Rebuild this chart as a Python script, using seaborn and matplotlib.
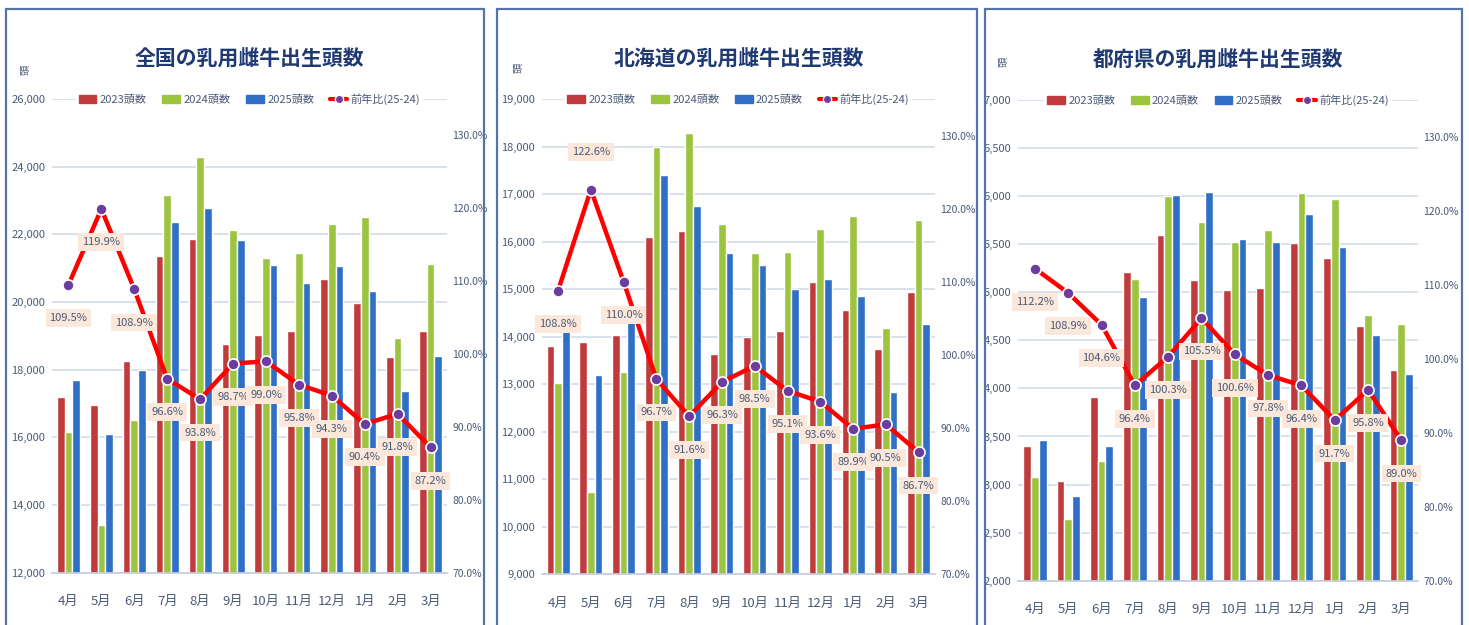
import numpy as np
import pandas as pd
import seaborn as sns
from matplotlib import pyplot as plt
from matplotlib.patches import Rectangle, Patch
from matplotlib.lines import Line2D
from matplotlib.ticker import FuncFormatter, MultipleLocator

sns.set_theme(style="white")
plt.rcParams["font.family"] = ["Noto Sans CJK JP", "DejaVu Sans"]

months = ["4月", "5月", "6月", "7月", "8月", "9月", "10月", "11月", "12月", "1月", "2月", "3月"]
series_names = ["2023頭数", "2024頭数", "2025頭数"]
line_name = "前年比(25-24)"

# 全国
zenkoku_2023 = [17200, 16950, 18250, 21350, 21870, 18760, 19020, 19150, 20690, 19960, 18370, 19150]
zenkoku_2024 = [16150, 13400, 16500, 23150, 24290, 22130, 21310, 21440, 22300, 22500, 18930, 21110]
zenkoku_2025 = [17700, 16100, 17980, 22360, 22770, 21830, 21090, 20550, 21060, 20320, 17370, 18410]
zenkoku_ratio = [109.5, 119.9, 108.9, 96.6, 93.8, 98.7, 99.0, 95.8, 94.3, 90.4, 91.8, 87.2]

# 北海道
hokkaido_2023 = [13800, 13880, 14040, 16090, 16230, 13640, 13990, 14120, 15140, 14560, 13730, 14940]
hokkaido_2024 = [13030, 10740, 13260, 18000, 18280, 16360, 15750, 15780, 16260, 16540, 14180, 16450]
hokkaido_2025 = [14180, 13190, 14580, 17400, 16740, 15750, 15510, 15010, 15210, 14860, 12830, 14260]
hokkaido_ratio = [108.8, 122.6, 110.0, 96.7, 91.6, 96.3, 98.5, 95.1, 93.6, 89.9, 90.5, 86.7]

# 都府県
tofuken_2023 = [3400, 3040, 3910, 5210, 5600, 5130, 5020, 5040, 5510, 5360, 4650, 4190]
tofuken_2024 = [3080, 2640, 3240, 5140, 6000, 5730, 5520, 5650, 6030, 5970, 4760, 4670]
tofuken_2025 = [3460, 2880, 3400, 4955, 6015, 6045, 5555, 5525, 5815, 5475, 4560, 4155]
tofuken_ratio = [112.2, 108.9, 104.6, 96.4, 100.3, 105.5, 100.6, 97.8, 96.4, 91.7, 95.8, 89.0]

titles = ["全国の乳用雌牛出生頭数", "北海道の乳用雌牛出生頭数", "都府県の乳用雌牛出生頭数"]

W, H = 1469, 625
bar_colors = ["#c13a3c", "#9cc43f", "#2f6fc6"]
line_color = "#ff0000"
marker_color = "#6a3d9e"
tick_color = "#4a5a78"
grid_color = "#d3dbea"

panels = [
    dict(title=titles[0], data=(zenkoku_2023, zenkoku_2024, zenkoku_2025), ratio=zenkoku_ratio,
         ylim=(12000, 26000), step=2000, box=(52, 447, 99, 572.7), frame=(6, 484), unit=(25, 70)),
    dict(title=titles[1], data=(hokkaido_2023, hokkaido_2024, hokkaido_2025), ratio=hokkaido_ratio,
         ylim=(9000, 19000), step=1000, box=(541.7, 935, 99, 574.3), frame=(497, 977), unit=(518, 68)),
    dict(title=titles[2], data=(tofuken_2023, tofuken_2024, tofuken_2025), ratio=tofuken_ratio,
         ylim=(2000, 7000), step=500, box=(1018.3, 1418, 100, 580.7), frame=(985, 1462), unit=(1003, 62)),
]

fig = plt.figure(figsize=(W / 100, H / 100), dpi=100)
fig.patch.set_facecolor("white")

for p in panels:
    fx0, fx1 = p["frame"]
    fig.add_artist(Rectangle((fx0 / W, -0.05), (fx1 - fx0) / W, 1.05 - 9 / H,
                             transform=fig.transFigure, fill=False, ec="#5574a8", lw=1.6))

    x0, x1, top, bottom = p["box"]
    ax = fig.add_axes([x0 / W, 1 - bottom / H, (x1 - x0) / W, (bottom - top) / H])

    v23, v24, v25 = p["data"]
    df = pd.DataFrame({
        "月": months * 3,
        "系列": np.repeat(series_names, len(months)),
        "頭数": v23 + v24 + v25,
    })
    sns.barplot(df, x="月", y="頭数", hue="系列", palette=bar_colors, width=0.7,
                saturation=1, legend=False, ax=ax)

    ax.set_ylim(*p["ylim"])
    ax.yaxis.set_major_locator(MultipleLocator(p["step"]))
    ax.yaxis.set_major_formatter(FuncFormatter(lambda v, _: f"{v:,.0f}"))
    ax.grid(axis="y", color=grid_color, lw=1.2)
    ax.set_axisbelow(True)
    for s in ["top", "left", "right"]:
        ax.spines[s].set_visible(False)
    ax.spines["bottom"].set_color("#c5cedd")
    ax.set_xlabel("")
    ax.set_ylabel("")
    ax.tick_params(axis="y", length=0, pad=5, labelsize=8, labelcolor=tick_color)
    ax.tick_params(axis="x", length=0, pad=16, labelsize=9.5, labelcolor=tick_color)

    ax2 = ax.twinx()
    ratio = np.array(p["ratio"]) / 100
    sns.lineplot(x=np.arange(len(months)), y=ratio, ax=ax2, color=line_color, lw=3.2,
                 marker="o", markersize=8, markerfacecolor=marker_color,
                 markeredgecolor="white", markeredgewidth=1.2)
    ax2.set_ylim(0.70, 1.35)
    ax2.set_yticks(np.arange(0.70, 1.31, 0.10))
    ax2.yaxis.set_major_formatter(FuncFormatter(lambda v, _: f"{v * 100:.1f}%"))
    ax2.tick_params(axis="y", length=0, pad=4, labelsize=7.5, labelcolor=tick_color)
    for s in ax2.spines.values():
        s.set_visible(False)
    ax.set_xlim(-0.5, len(months) - 0.5)

    for i, r in enumerate(p["ratio"]):
        dy = 27 if r > 120 else -24
        ax2.annotate(f"{r:.1f}%", (i, r / 100), xytext=(0, dy), textcoords="offset points",
                     ha="center", va="center", fontsize=8, color=tick_color, zorder=5,
                     bbox=dict(boxstyle="square,pad=0.35", fc="#fbe8da", ec="none"))

    handles = [Patch(color=c) for c in bar_colors] + [
        Line2D([], [], color=line_color, lw=3, marker="o", markersize=6,
               markerfacecolor=marker_color, markeredgecolor="white")]
    ax2.legend(handles, series_names + [line_name], loc="center",
               bbox_to_anchor=(0.5, 1.0), ncol=4, frameon=True, facecolor="white",
               edgecolor="none", framealpha=1, fontsize=8, labelcolor=tick_color,
               handlelength=1.6, handleheight=0.7, handletextpad=0.3,
               columnspacing=1.4, borderpad=0.25)

    ax.set_title(p["title"], pad=24, fontsize=15, fontweight="bold", color="#1f3a72")

    ux, uy = p["unit"]
    fig.text(ux / W, 1 - uy / H, "頭", rotation=90, ha="center", va="center",
             fontsize=7.5, color=tick_color)

fig.savefig("out.png", dpi=100)
